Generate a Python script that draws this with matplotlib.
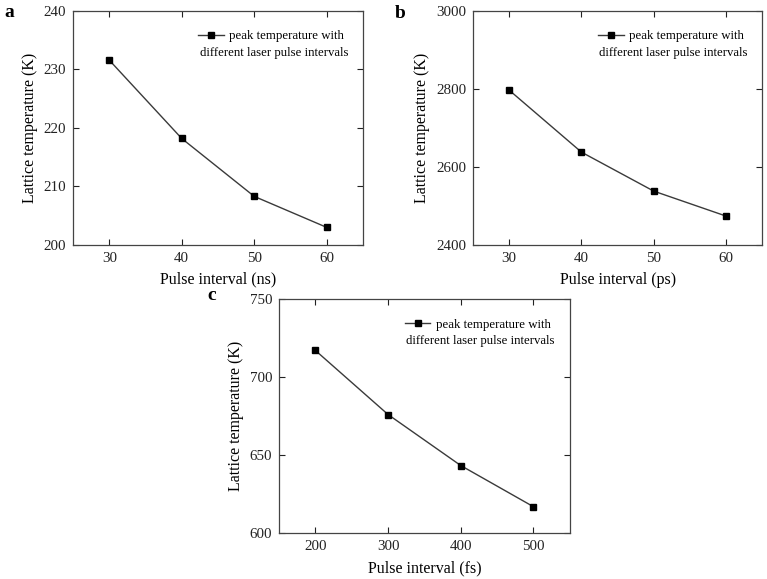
import numpy as np
import matplotlib
matplotlib.use('Agg')
import matplotlib.pyplot as plt

plt.rcParams['font.family'] = ['Liberation Serif', 'DejaVu Serif']

# data
ns_interval = [30, 40, 50, 60]
ns_temp = [231.6, 218.2, 208.3, 203.0]
ps_interval = [30, 40, 50, 60]
ps_temp = [2797, 2638, 2538, 2474]
fs_interval = [200, 300, 400, 500]
fs_temp = [717.1, 676.0, 643.3, 616.9]

legend_line1 = 'peak temperature with'
legend_line2 = 'different laser pulse intervals'


def panel(fig, rect, x, y, xlim, ylim, xticks, yticks, xlabel, tag, tagpos):
    ax = fig.add_axes(rect)
    ax.plot(x, y, color='#3a3a3a', linewidth=1.0, marker='s', markersize=4.2,
            markerfacecolor='black', markeredgecolor='black', label=legend_line1)
    ax.set_xlim(xlim)
    ax.set_ylim(ylim)
    ax.set_xticks(xticks)
    ax.set_yticks(yticks)
    ax.tick_params(direction='in', top=True, right=True, length=4, width=0.8,
                   labelsize=10.8, pad=5, colors='#222222')
    for s in ax.spines.values():
        s.set_linewidth(0.9)
        s.set_color('#444444')
    ax.set_xlabel(xlabel, fontsize=11.5, labelpad=5)
    ax.set_ylabel('Lattice temperature (K)', fontsize=11.5, labelpad=4)
    ax.legend(loc='upper left', bbox_to_anchor=(0.432, 0.917), frameon=False,
              fontsize=9.3, handlelength=2.0, handletextpad=0.4,
              borderpad=0, borderaxespad=0)
    ax.text(0.437, 0.819, legend_line2, transform=ax.transAxes, fontsize=9.2,
            ha='left', va='center')
    fig.text(tagpos[0], tagpos[1], tag, fontsize=14, fontweight='bold',
             ha='left', va='center')
    return ax


fig = plt.figure(figsize=(7.67, 5.79), dpi=100)

panel(fig, [0.0952, 0.577, 0.378, 0.404], ns_interval, ns_temp, (25, 65), (200, 240),
      [30, 40, 50, 60], [200, 210, 220, 230, 240], 'Pulse interval (ns)', 'a',
      (0.006, 0.978))
panel(fig, [0.6167, 0.577, 0.377, 0.404], ps_interval, ps_temp, (25, 65), (2400, 3000),
      [30, 40, 50, 60], [2400, 2600, 2800, 3000], 'Pulse interval (ps)', 'b',
      (0.515, 0.976))
panel(fig, [0.3638, 0.0794, 0.379, 0.404], fs_interval, fs_temp, (150, 550), (600, 750),
      [200, 300, 400, 500], [600, 650, 700, 750], 'Pulse interval (fs)', 'c',
      (0.27, 0.49))

fig.savefig('out.png', dpi=100)
